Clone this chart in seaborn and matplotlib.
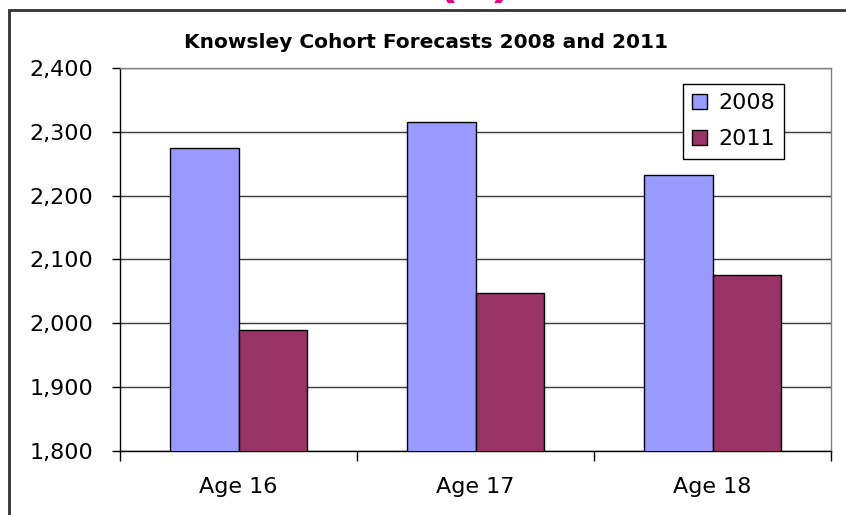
import matplotlib
matplotlib.use("Agg")
import matplotlib.pyplot as plt
from matplotlib.patches import Rectangle
from matplotlib.ticker import FuncFormatter, FixedLocator
import seaborn as sns
import pandas as pd

# values
ages = ["Age 16", "Age 17", "Age 18"]
years = ["2008", "2011"]
forecast_2008 = [2274, 2315, 2232]
forecast_2011 = [1990, 2048, 2076]
bar_colors = ["#9999FF", "#993366"]

df = pd.DataFrame({
    "age": ages * 2,
    "year": [years[0]] * 3 + [years[1]] * 3,
    "count": forecast_2008 + forecast_2011,
})

sns.set_style("white")
plt.rcParams["font.family"] = ["DejaVu Sans"]
plt.rcParams["text.color"] = "black"
plt.rcParams["xtick.color"] = "black"
plt.rcParams["ytick.color"] = "black"

fig = plt.figure(figsize=(8.46, 5.15), dpi=100)
ax = fig.add_axes([120 / 846, 1 - 451 / 515, 711 / 846, 383 / 515])

sns.barplot(data=df, x="age", y="count", hue="year", hue_order=years,
            palette=bar_colors, width=0.58, gap=0, edgecolor="black",
            linewidth=1, saturation=1, errorbar=None, ax=ax, zorder=3)

ax.set_ylim(1800, 2400)
ax.set_xlim(-0.5, 2.5)
ax.set_yticks(range(1800, 2401, 100))
ax.yaxis.set_major_formatter(FuncFormatter(lambda v, p: f"{int(v):,}"))
ax.grid(axis="y", color="#3a3a3a", linewidth=1, zorder=0)
ax.set_axisbelow(True)
ax.set_xlabel("")
ax.set_ylabel("")

ax.tick_params(axis="y", which="major", left=True, length=6, width=1,
               color="black", labelcolor="black", labelsize=16, pad=13.5)
ax.tick_params(axis="x", which="major", bottom=True, length=0,
               labelcolor="black", labelsize=16, pad=19)
ax.xaxis.set_minor_locator(FixedLocator([-0.5, 0.5, 1.5, 2.5]))
ax.tick_params(axis="x", which="minor", bottom=True, length=7, width=1, color="black")

for side in ["left", "bottom"]:
    ax.spines[side].set_color("black")
    ax.spines[side].set_linewidth(1)
for side in ["top", "right"]:
    ax.spines[side].set_visible(True)
    ax.spines[side].set_color("#808080")
    ax.spines[side].set_linewidth(1)

leg = ax.legend(loc="upper left", bbox_to_anchor=(0.792, 0.958), fontsize=16,
                frameon=True, fancybox=False, edgecolor="black", framealpha=1,
                handlelength=0.65, handleheight=0.65, handletextpad=0.5,
                labelspacing=0.72, borderpad=0.42, borderaxespad=0)
leg.get_frame().set_linewidth(1)
leg.set_zorder(5)
for t in leg.get_texts():
    t.set_color("black")

fig.text(0.503, 1 - 42 / 515, "Knowsley Cohort Forecasts 2008 and 2011",
         ha="center", va="center", fontsize=14.5, fontweight="bold", color="black")

# magenta heading above the chart, mostly cut off by the image edge
fig.text(0.561, 1 + 3 / 515, "(a)", ha="center", va="baseline",
         fontsize=34, fontweight="bold", color="#E6007E")

# outer chart border
fig.patches.append(Rectangle((9 / 846, -0.1), 1.2, 1 - 10 / 515 + 0.1,
                             transform=fig.transFigure, fill=False,
                             edgecolor="#333333", linewidth=2))

fig.savefig("out.png", dpi=100, facecolor="white")
